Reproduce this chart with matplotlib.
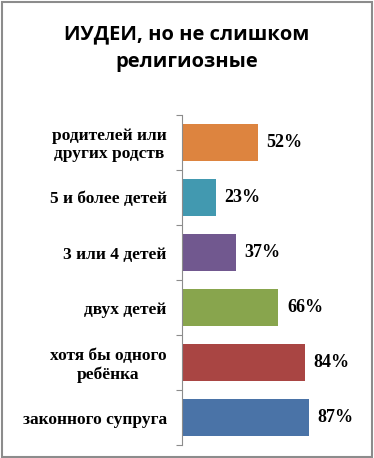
import matplotlib
matplotlib.use('Agg')
import matplotlib.pyplot as plt
from matplotlib.patches import Rectangle

# data (bottom to top)
categories = ['законного супруга', 'хотя бы одного\nребёнка', 'двух детей',
              '3 или 4 детей', '5 и более детей', 'родителей или\nдругих родств']
values = [87, 84, 66, 37, 23, 52]
colors = ['#4A73A7', '#A94543', '#88A54D', '#71588F', '#4299B0', '#DD843F']
title = 'ИУДЕИ, но не слишком\nрелигиозные'

fig = plt.figure(figsize=(3.74, 4.58), dpi=100)
ax = fig.add_axes([182 / 374, 13 / 458, 146 / 374, 330 / 458])

y = range(len(values))
ax.barh(y, values, height=0.67, color=colors, edgecolor='none')

for yi, v in zip(y, values):
    ax.text(v + 6, yi, '%d%%' % v, va='center', ha='left',
            family='Liberation Serif', fontweight='bold', fontsize=13, clip_on=False)

ax.set_xlim(0, 100)
ax.set_ylim(-0.5, len(values) - 0.5)
ax.set_yticks([i - 0.5 for i in range(len(values) + 1)])
ax.set_yticklabels([])
ax.set_yticks(list(y), minor=True)
ax.set_yticklabels(categories, minor=True, family='Liberation Serif',
                   fontweight='bold', fontsize=12.5, linespacing=1.15)
for lab in ax.get_yticklabels(minor=True):
    lab.set_multialignment('center')
ax.tick_params(axis='y', which='major', length=4, width=0.8, color='#8c8c8c')
ax.tick_params(axis='y', which='minor', length=0, pad=11)
ax.set_xticks([])
for s in ['top', 'right', 'bottom']:
    ax.spines[s].set_visible(False)
ax.spines['left'].set_color('#8c8c8c')
ax.spines['left'].set_linewidth(0.8)

fig.text(0.5, 1 - 48 / 458, title, ha='center', va='center', family='Open Sans',
         fontweight='bold', fontsize=14.5, linespacing=1.5)

fig.patches.append(Rectangle((1.5 / 374, 1.5 / 458), 370 / 374, 455 / 458,
                             transform=fig.transFigure, fill=False,
                             edgecolor='#8c8c8c', linewidth=1.5))

fig.savefig('out.png', dpi=100)
